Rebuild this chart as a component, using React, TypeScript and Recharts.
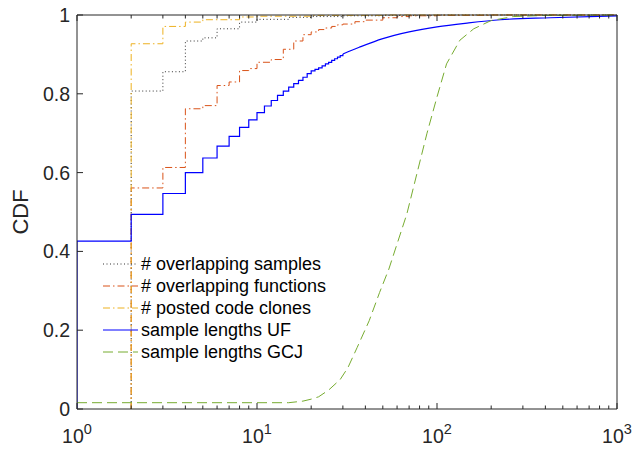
import React from 'react';
import { LineChart, Line, XAxis, YAxis, Legend } from 'recharts';

// tick values
const xTicks = [1, 2, 3, 4, 5, 6, 7, 8, 9, 10, 20, 30, 40, 50, 60, 70, 80, 90, 100, 200, 300, 400, 500, 600, 700, 800, 900, 1000];
const yTicks = [0, 0.2, 0.4, 0.6, 0.8, 1];

// # overlapping samples
const samplesX = [2, 2, 3, 4, 5, 6, 8, 10, 15, 20, 30, 50, 100, 1000];
const samplesY = [0, 0.807, 0.856, 0.934, 0.942, 0.965, 0.982, 0.989, 0.994, 0.996, 0.998, 0.999, 1, 1];

// # overlapping functions
const functionsX = [2, 2, 3, 4, 5, 6, 7, 8, 9, 10, 12, 14, 16, 18, 20, 22, 24, 26, 28, 30, 35, 40, 50, 60, 70, 100, 200, 1000];
const functionsY = [0, 0.561, 0.613, 0.762, 0.77, 0.821, 0.83, 0.859, 0.864, 0.88, 0.887, 0.913, 0.934, 0.95, 0.957, 0.963, 0.967, 0.971, 0.975, 0.977, 0.983, 0.987, 0.993, 0.996, 0.998, 0.999, 1, 1];

// # posted code clones
const clonesX = [2, 2, 3, 4, 5, 8, 10, 20, 50, 1000];
const clonesY = [0, 0.927, 0.971, 0.982, 0.988, 0.995, 0.997, 0.999, 1, 1];

// sample lengths UF (stepped head, smooth tail)
const ufX = [1, 1, 2, 3, 4, 5, 6, 7, 8, 9, 10, 11, 12, 13, 14, 15, 16, 17, 18, 19, 20, 21, 22, 23, 24, 25, 26, 27, 28, 29, 30];
const ufY = [0, 0.426, 0.494, 0.547, 0.6, 0.637, 0.667, 0.692, 0.715, 0.734, 0.752, 0.769, 0.783, 0.796, 0.807, 0.817, 0.826, 0.834, 0.842, 0.851, 0.858, 0.862, 0.866, 0.871, 0.876, 0.88, 0.885, 0.889, 0.893, 0.897, 0.901];
const ufTailX = [30, 37, 50, 70, 100, 150, 225, 425, 1000];
const ufTailY = [0.901, 0.918, 0.94, 0.957, 0.97, 0.98, 0.988, 0.993, 0.998];

// sample lengths GCJ
const gcjX = [1, 15, 18, 20, 22, 25, 29, 32, 36, 42, 48, 54, 60, 68, 77, 88, 100, 113, 134, 160, 200, 265, 400, 1000];
const gcjY = [0.016, 0.016, 0.02, 0.025, 0.031, 0.048, 0.075, 0.105, 0.156, 0.224, 0.296, 0.355, 0.419, 0.495, 0.594, 0.7, 0.792, 0.876, 0.936, 0.965, 0.986, 0.996, 0.999, 1];

const zip = (xs: number[], ys: number[]) => xs.map((x, i) => ({ x, y: ys[i] }));

const AXIS = '#262626';
const FONT = '"Liberation Sans", Arial, Helvetica, sans-serif';

const series = [
  { name: '# overlapping samples', color: '#333333', dash: '1 2.5' },
  { name: '# overlapping functions', color: '#D95319', dash: '7 3 1.5 3' },
  { name: '# posted code clones', color: '#EDB120', dash: '7 3 1.5 3' },
  { name: 'sample lengths UF', color: '#0000FF', dash: undefined },
  { name: 'sample lengths GCJ', color: '#77AC30', dash: '10 5' },
];

const isMajor = (v: number) => {
  const e = Math.log10(v);
  return Math.abs(e - Math.round(e)) < 1e-6;
};

const BottomTick = (props: any) => {
  const { x, y, payload } = props;
  const major = isMajor(payload.value);
  return (
    <g>
      <line x1={x} x2={x} y1={y} y2={y - (major ? 6 : 3.5)} stroke={AXIS} />
      {major && (
        <text x={x} y={y + 34} textAnchor="middle" fontSize={19.5} fill={AXIS} fontFamily={FONT}>
          10<tspan dy={-9} fontSize={14.5}>{Math.round(Math.log10(payload.value))}</tspan>
        </text>
      )}
    </g>
  );
};

const TopTick = (props: any) => {
  const { x, y, payload } = props;
  const major = isMajor(payload.value);
  return <line x1={x} x2={x} y1={y} y2={y + (major ? 6 : 3.5)} stroke={AXIS} />;
};

const LeftTick = (props: any) => {
  const { x, y, payload } = props;
  return (
    <g>
      <line x1={x} x2={x + 6} y1={y} y2={y} stroke={AXIS} />
      <text x={x - 7} y={y} textAnchor="end" dominantBaseline="central" fontSize={19.5} fill={AXIS} fontFamily={FONT}>
        {String(payload.value)}
      </text>
    </g>
  );
};

const RightTick = (props: any) => {
  const { x, y } = props;
  return <line x1={x} x2={x - 6} y1={y} y2={y} stroke={AXIS} />;
};

const CdfLabel = (props: any) => {
  const vb = props.viewBox;
  const cy = vb.y + vb.height / 2;
  return (
    <text x={20} y={cy} transform={`rotate(-90 20 ${cy})`} textAnchor="middle" dominantBaseline="central" fontSize={22} fill={AXIS} fontFamily={FONT}>
      CDF
    </text>
  );
};

const LegendBox = () => (
  <svg width={260} height={110} style={{ display: 'block' }}>
    {series.map((s, i) => (
      <g key={s.name}>
        <line x1={0} x2={35} y1={11 + i * 22} y2={11 + i * 22} stroke={s.color} strokeDasharray={s.dash} />
        <text x={38} y={11 + i * 22} dominantBaseline="central" fontSize={18} fill="#000" fontFamily={FONT}>
          {s.name}
        </text>
      </g>
    ))}
  </svg>
);

export default function App() {
  return (
    <div style={{ position: 'absolute', left: 0, top: 0, background: '#fff' }}>
      <LineChart width={637} height={450} margin={{ top: 0, right: 0, bottom: 0, left: 0 }}>
        <XAxis
          dataKey="x"
          type="number"
          scale="log"
          domain={[1, 1000]}
          allowDataOverflow
          ticks={xTicks}
          interval={0}
          height={41}
          tickSize={0}
          tickMargin={0}
          stroke={AXIS}
          tick={<BottomTick />}
        />
        <XAxis
          xAxisId="top"
          orientation="top"
          dataKey="x"
          type="number"
          scale="log"
          domain={[1, 1000]}
          allowDataOverflow
          ticks={xTicks}
          interval={0}
          height={15}
          tickSize={0}
          tickMargin={0}
          stroke={AXIS}
          tick={<TopTick />}
        />
        <YAxis
          type="number"
          domain={[0, 1]}
          ticks={yTicks}
          interval={0}
          width={77}
          tickSize={0}
          tickMargin={0}
          stroke={AXIS}
          tick={<LeftTick />}
          label={<CdfLabel />}
        />
        <YAxis
          yAxisId="right"
          orientation="right"
          type="number"
          domain={[0, 1]}
          ticks={yTicks}
          interval={0}
          width={20}
          tickSize={0}
          tickMargin={0}
          stroke={AXIS}
          tick={<RightTick />}
        />
        <Legend
          layout="vertical"
          align="center"
          verticalAlign="middle"
          content={<LegendBox />}
          wrapperStyle={{ left: 103, top: 253, width: 260 }}
        />
        <Line data={zip(samplesX, samplesY)} dataKey="y" name={series[0].name} type="stepAfter" stroke={series[0].color} strokeDasharray={series[0].dash} strokeWidth={1} dot={false} activeDot={false} isAnimationActive={false} />
        <Line data={zip(functionsX, functionsY)} dataKey="y" name={series[1].name} type="stepAfter" stroke={series[1].color} strokeDasharray={series[1].dash} strokeWidth={1} dot={false} activeDot={false} isAnimationActive={false} />
        <Line data={zip(clonesX, clonesY)} dataKey="y" name={series[2].name} type="stepAfter" stroke={series[2].color} strokeDasharray={series[2].dash} strokeWidth={1} dot={false} activeDot={false} isAnimationActive={false} />
        <Line data={zip(ufX, ufY)} dataKey="y" name={series[3].name} type="stepAfter" stroke={series[3].color} strokeWidth={1.2} dot={false} activeDot={false} isAnimationActive={false} />
        <Line data={zip(ufTailX, ufTailY)} dataKey="y" name="uf-tail" legendType="none" type="monotone" stroke={series[3].color} strokeWidth={1.2} dot={false} activeDot={false} isAnimationActive={false} />
        <Line data={zip(gcjX, gcjY)} dataKey="y" name={series[4].name} type="linear" stroke={series[4].color} strokeDasharray={series[4].dash} strokeWidth={1} dot={false} activeDot={false} isAnimationActive={false} />
      </LineChart>
    </div>
  );
}
